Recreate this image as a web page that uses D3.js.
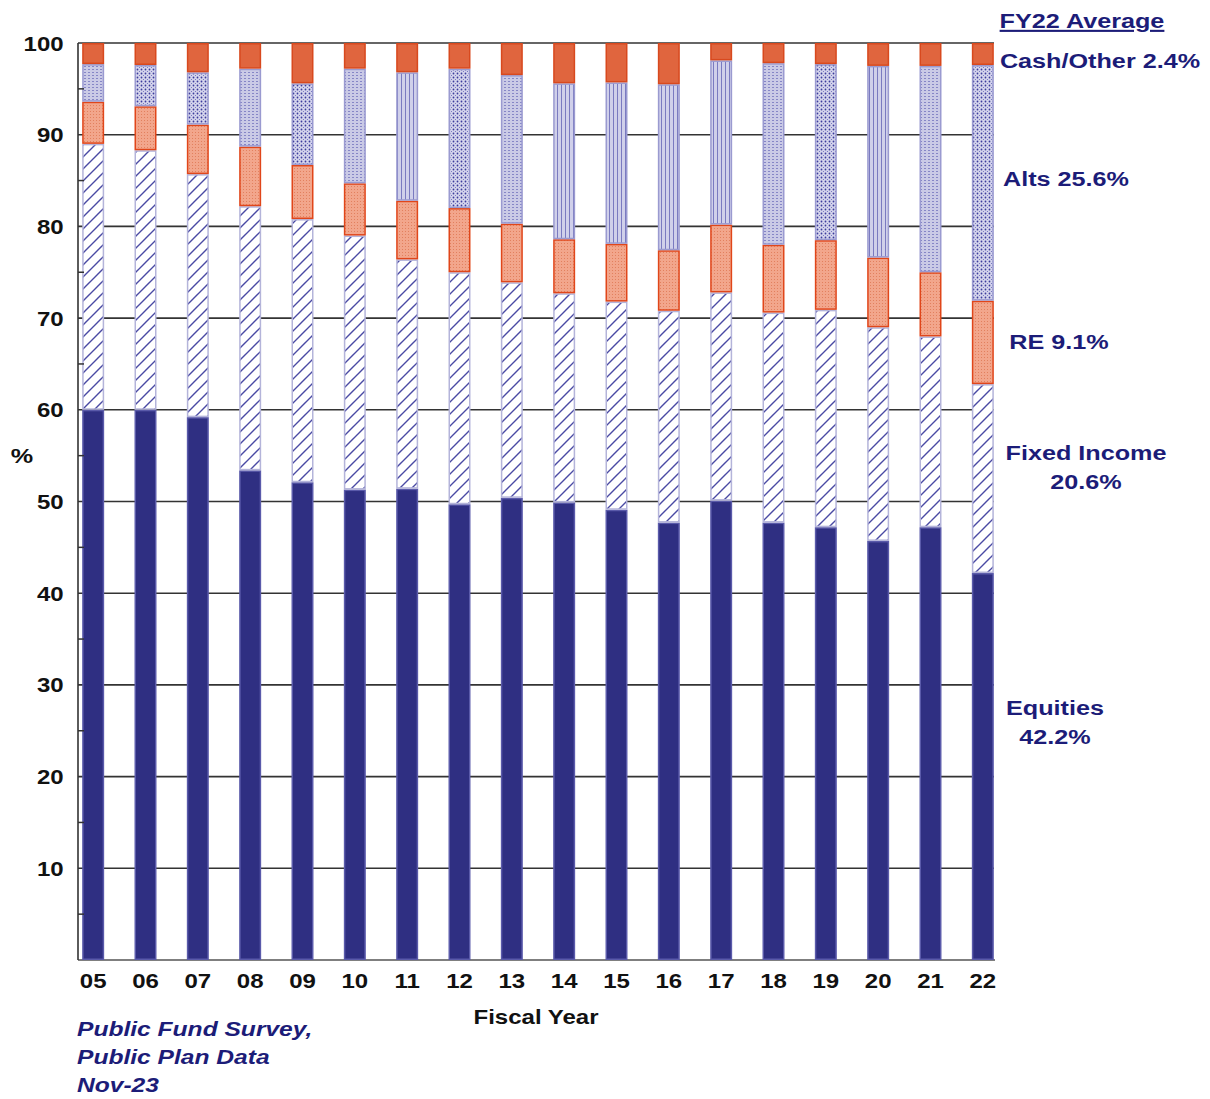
<!DOCTYPE html>
<html><head><meta charset="utf-8">
<script src="https://cdn.jsdelivr.net/npm/d3@7"></script>
<style>body{margin:0;background:#fff}svg{display:block}</style>
</head><body><svg id="c" width="1210" height="1099"></svg>
<script>
const years = ["05","06","07","08","09","10","11","12","13","14","15","16","17","18","19","20","21","22"];
const equities    = [60.0,60.0,59.2,53.4,52.1,51.3,51.4,49.7,50.4,49.9,49.1,47.7,50.1,47.7,47.2,45.7,47.2,42.2];
const fixedIncome = [29.0,28.3,26.5,28.8,28.7,27.7,25.0,25.3,23.5,22.8,22.7,23.1,22.7,22.9,23.7,23.3,20.8,20.6];
const realEstate  = [4.6,4.8,5.4,6.5,5.9,5.7,6.4,7.0,6.4,5.9,6.3,6.6,7.4,7.4,7.6,7.6,7.0,9.1];
const alts        = [4.1,4.5,5.7,8.5,8.9,12.5,14.0,15.2,16.2,17.0,17.6,18.1,17.9,19.8,19.2,20.9,22.5,25.7];
const cashOther   = [2.3,2.4,3.2,2.8,4.4,2.8,3.2,2.8,3.5,4.4,4.3,4.5,1.9,2.2,2.3,2.5,2.5,2.4];
const yTicks = [10,20,30,40,50,60,70,80,90,100];
const minorTicks = [5,15,25,35,45,55,65,75,85,95];
const keys = ["equities","fixedIncome","realEstate","alts","cashOther"];
const altPatternStyle = ["mesh","dots","dots","mesh","dots","mesh","vlines","dots","mesh","vlines","vlines","vlines","vlines","mesh","dots","vlines","mesh","dots"];

const rows = years.map((y,i)=>({year:y,equities:equities[i],fixedIncome:fixedIncome[i],realEstate:realEstate[i],alts:alts[i],cashOther:cashOther[i]}));
const series = d3.stack().keys(keys)(rows);

const svg = d3.select("#c");
const SX = 1.2;
const NAVY = "#1c1c78";

const x = d3.scaleBand().domain(years).range([67,1009]).paddingInner(0.58).paddingOuter(0.29);
const y = d3.scaleLinear().domain([0,100]).range([960,43]);

// patterns
const defs = svg.append("defs");
const fi = defs.append("pattern").attr("id","pFI").attr("patternUnits","userSpaceOnUse").attr("width",12).attr("height",12);
fi.append("rect").attr("width",12).attr("height",12).attr("fill","#fff");
fi.append("path").attr("d","M0,12 L12,0 M-3,3 L3,-3 M9,15 L15,9").attr("stroke","#4a4aa4").attr("stroke-width",1.4);

const re = defs.append("pattern").attr("id","pRE").attr("patternUnits","userSpaceOnUse").attr("width",3).attr("height",3);
re.append("rect").attr("width",3).attr("height",3).attr("fill","#f2a68c");
re.append("rect").attr("width",1).attr("height",1).attr("fill","#e2805e");

const pd = defs.append("pattern").attr("id","pAdots").attr("patternUnits","userSpaceOnUse").attr("width",4).attr("height",4);
pd.append("rect").attr("width",4).attr("height",4).attr("fill","#d4d4ec");
pd.append("circle").attr("cx",1.5).attr("cy",1.5).attr("r",0.9).attr("fill","#3c3c9c");
pd.append("circle").attr("cx",3.5).attr("cy",3.5).attr("r",0.6).attr("fill","#7070bc");

const pm = defs.append("pattern").attr("id","pAmesh").attr("patternUnits","userSpaceOnUse").attr("width",4).attr("height",3);
pm.append("rect").attr("width",4).attr("height",3).attr("fill","#cacae6");
pm.append("rect").attr("x",0).attr("y",0).attr("width",2).attr("height",1).attr("fill","#8686c6");

const pv = defs.append("pattern").attr("id","pAvlines").attr("patternUnits","userSpaceOnUse").attr("width",4).attr("height",4);
pv.append("rect").attr("width",4).attr("height",4).attr("fill","#d0d0ea");
pv.append("rect").attr("x",1).attr("width",1).attr("height",4).attr("fill","#7a7ac0");

// gridlines
svg.append("g").selectAll("line").data(yTicks).join("line")
  .attr("x1",78).attr("x2",994).attr("y1",d=>y(d)).attr("y2",d=>y(d))
  .attr("stroke","#333").attr("stroke-width",1.6);
// bottom axis line
svg.append("line").attr("x1",78).attr("x2",995).attr("y1",y(0)).attr("y2",y(0)).attr("stroke","#555").attr("stroke-width",1.5);

// bars
const fills = {equities:"#2f2f82",fixedIncome:"url(#pFI)",realEstate:"url(#pRE)",cashOther:"#e0653e"};
const strokes = {equities:"#5a5aaa",fixedIncome:"#b4b4da",realEstate:"#e0461a",alts:"#9a9ad0",cashOther:"#d8491e"};
series.forEach(s=>{
  svg.append("g").selectAll("rect").data(s).join("rect")
    .attr("x",d=>x(d.data.year)+0.75).attr("width",x.bandwidth()-1.5)
    .attr("y",d=>y(d[1])+0.75).attr("height",d=>Math.max(0,y(d[0])-y(d[1])-1.5))
    .attr("fill",(d,i)=>s.key==="alts" ? `url(#pA${altPatternStyle[i]})` : fills[s.key])
    .attr("stroke",strokes[s.key]).attr("stroke-width",1.5);
});

// left axis line and minor ticks
svg.append("line").attr("x1",78).attr("x2",78).attr("y1",y(100)).attr("y2",y(0)).attr("stroke","#333").attr("stroke-width",1.6);
svg.append("g").selectAll("line").data(minorTicks).join("line")
  .attr("x1",78).attr("x2",84).attr("y1",d=>y(d)).attr("y2",d=>y(d)).attr("stroke","#333").attr("stroke-width",1.5);

// y axis labels
const ya = svg.append("g").attr("transform","translate(78,0)")
  .call(d3.axisLeft(y).tickValues(yTicks).tickSize(0).tickPadding(12).tickFormat(d3.format("d")));
ya.select(".domain").remove();
ya.selectAll("text").attr("font-family","'Liberation Sans',Arial,sans-serif").attr("font-size",20).attr("font-weight","bold").attr("fill","#111")
  .attr("dy","0.35em").attr("transform",`scale(${SX},1)`);

// x axis labels
const xa = svg.append("g").attr("transform",`translate(0,${y(0)})`)
  .call(d3.axisBottom(x).tickSize(0).tickPadding(20));
xa.select(".domain").remove();
xa.selectAll("text").attr("font-family","'Liberation Sans',Arial,sans-serif").attr("font-size",20).attr("font-weight","bold").attr("fill","#111")
  .attr("dy","0").attr("y",28).each(function(){
    const t = d3.select(this.parentNode).attr("transform");
  }).attr("transform",`scale(${SX},1)`).attr("x",0);
xa.selectAll(".tick").each(function(d){
  d3.select(this).attr("transform",`translate(${x(d)+x.bandwidth()/2},0)`);
});

function txt(str,px,py,opts={}){
  const t = svg.append("text").attr("transform",`translate(${px},${py}) scale(${SX},1)`)
    .attr("font-family","'Liberation Sans',Arial,sans-serif").attr("font-weight","bold")
    .attr("font-size",opts.size||21).attr("fill",opts.fill||NAVY)
    .attr("text-anchor",opts.anchor||"start").text(str);
  if(opts.italic) t.attr("font-style","italic");
  if(opts.underline) t.attr("text-decoration","underline");
  return t;
}
txt("%",22,463,{size:21,fill:"#111",anchor:"middle"});
txt("Fiscal Year",536,1024,{size:20,fill:"#111",anchor:"middle"});
txt("Public Fund Survey,",77,1036,{italic:true,size:20.5});
txt("Public Plan Data",77,1064,{italic:true,size:20.5});
txt("Nov-23",77,1092,{italic:true,size:20.5});

txt("FY22 Average",1082,28,{anchor:"middle",underline:true});
txt("Cash/Other 2.4%",1100,68,{anchor:"middle"});
txt("Alts 25.6%",1066,186,{anchor:"middle"});
txt("RE 9.1%",1059,349,{anchor:"middle"});
txt("Fixed Income",1086,460,{anchor:"middle"});
txt("20.6%",1086,489,{anchor:"middle"});
txt("Equities",1055,715,{anchor:"middle"});
txt("42.2%",1055,744,{anchor:"middle"});
</script></body></html>
